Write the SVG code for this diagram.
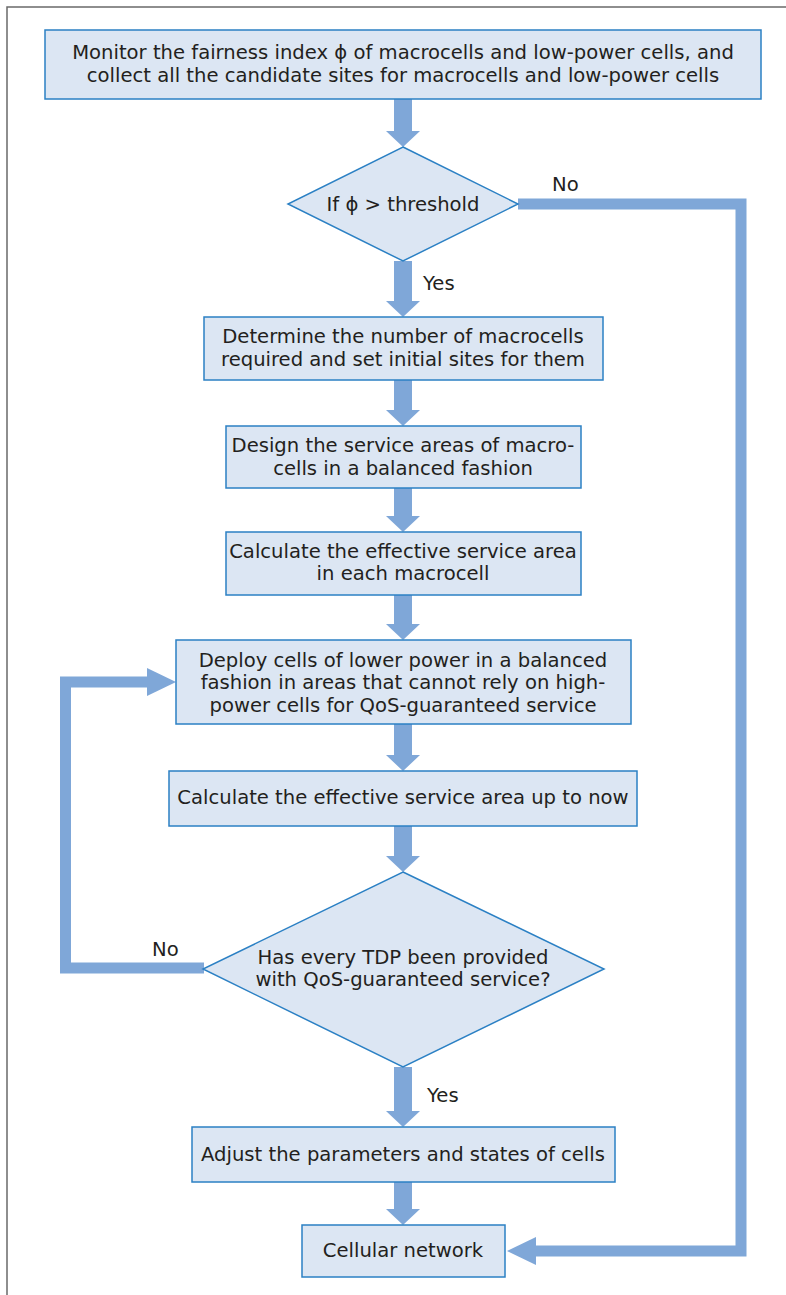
<svg xmlns="http://www.w3.org/2000/svg" width="786" height="1295" viewBox="0 0 786 1295">
<style>
.box{fill:#dce6f3;stroke:#2b80c4;stroke-width:1.5}
.t{font-family:"DejaVu Sans","Open Sans",sans-serif;font-size:19.6px;fill:#231f20;text-anchor:middle}
.lbl{font-family:"DejaVu Sans","Open Sans",sans-serif;font-size:19.6px;fill:#231f20}
.sh{fill:#7fa7d8}
.ln{fill:none;stroke:#7fa7d8;stroke-width:11}
</style>
<rect width="786" height="1295" fill="#ffffff"/>
<polyline points="7,1295 7,7 786,7" fill="none" stroke="#6a6a6a" stroke-width="1.5"/>
<g id="connectors">
<path class="sh" d="M394,99 H412 V131 H420 L403,147 L386,131 H394 Z"/>
<path class="sh" d="M394,261 H412 V301 H420 L403,317 L386,301 H394 Z"/>
<path class="sh" d="M394,380 H412 V410 H420 L403,426 L386,410 H394 Z"/>
<path class="sh" d="M394,488 H412 V516 H420 L403,532 L386,516 H394 Z"/>
<path class="sh" d="M394,595 H412 V624 H420 L403,640 L386,624 H394 Z"/>
<path class="sh" d="M394,724 H412 V755 H420 L403,771 L386,755 H394 Z"/>
<path class="sh" d="M394,826 H412 V856 H420 L403,872 L386,856 H394 Z"/>
<path class="sh" d="M394,1067 H412 V1111 H420 L403,1127 L386,1111 H394 Z"/>
<path class="sh" d="M394,1182 H412 V1209 H420 L403,1225 L386,1209 H394 Z"/>
<polyline class="ln" points="518,204 741,204 741,1251 535,1251"/>
<polygon class="sh" points="536,1237 536,1265 507,1251"/>
<polyline class="ln" points="204,968 65.5,968 65.5,682 148,682"/>
<polygon class="sh" points="147,668 147,696 176,682"/>
<text class="lbl" x="552" y="191">No</text>
<text class="lbl" x="423" y="290">Yes</text>
<text class="lbl" x="152" y="956">No</text>
<text class="lbl" x="427" y="1102">Yes</text>
</g>
<g id="n1">
<rect class="box" x="45" y="30" width="716" height="69"/>
<text class="t" x="403" y="59">Monitor the fairness index ϕ of macrocells and low-power cells, and</text>
<text class="t" x="403" y="82">collect all the candidate sites for macrocells and low-power cells</text>
</g>
<g id="d1">
<polygon class="box" points="403,147 518,204 403,261 288,204"/>
<text class="t" x="403" y="211">If ϕ &gt; threshold</text>
</g>
<g id="n2">
<rect class="box" x="204" y="317" width="399" height="63"/>
<text class="t" x="403" y="343">Determine the number of macrocells</text>
<text class="t" x="403" y="366">required and set initial sites for them</text>
</g>
<g id="n3">
<rect class="box" x="226" y="426" width="355" height="62"/>
<text class="t" x="403" y="452">Design the service areas of macro-</text>
<text class="t" x="403" y="475">cells in a balanced fashion</text>
</g>
<g id="n4">
<rect class="box" x="226" y="532" width="355" height="63"/>
<text class="t" x="403" y="558">Calculate the effective service area</text>
<text class="t" x="403" y="580">in each macrocell</text>
</g>
<g id="n5">
<rect class="box" x="176" y="640" width="455" height="84"/>
<text class="t" x="403" y="667">Deploy cells of lower power in a balanced</text>
<text class="t" x="403" y="689">fashion in areas that cannot rely on high-</text>
<text class="t" x="403" y="712">power cells for QoS-guaranteed service</text>
</g>
<g id="n6">
<rect class="box" x="169" y="771" width="468" height="55"/>
<text class="t" x="403" y="804">Calculate the effective service area up to now</text>
</g>
<g id="d2">
<polygon class="box" points="403,872 604,969 403,1067 203,969"/>
<text class="t" x="403" y="964">Has every TDP been provided</text>
<text class="t" x="403" y="986">with QoS-guaranteed service?</text>
</g>
<g id="n7">
<rect class="box" x="192" y="1127" width="423" height="55"/>
<text class="t" x="403" y="1161">Adjust the parameters and states of cells</text>
</g>
<g id="n8">
<rect class="box" x="302" y="1225" width="203" height="52"/>
<text class="t" x="403" y="1257">Cellular network</text>
</g>
</svg>
